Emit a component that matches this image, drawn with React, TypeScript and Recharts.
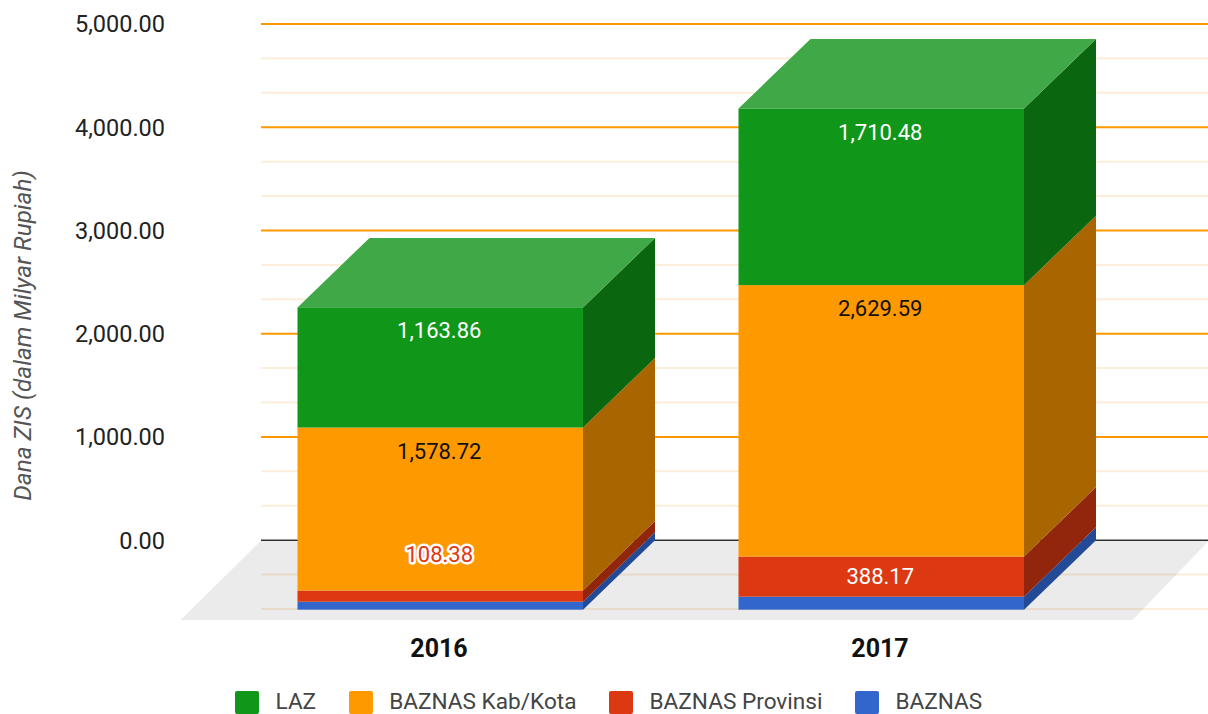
import { BarChart, Bar, XAxis, YAxis, CartesianGrid, ReferenceArea, LabelList, Legend } from 'recharts';

const years = ['2016', '2017'];
const baznas = [77, 126];
const provinsi = [108.38, 388.17];
const kabKota = [1578.72, 2629.59];
const laz = [1163.86, 1710.48];

const majorTicks = [0, 1000, 2000, 3000, 4000, 5000];
const minorLines = [-666.67, -333.33, 333.33, 666.67, 1333.33, 1666.67, 2333.33, 2666.67, 3333.33, 3666.67, 4333.33, 4666.67];

const legendItems = [
  { name: 'LAZ', color: '#109618' },
  { name: 'BAZNAS Kab/Kota', color: '#ff9900' },
  { name: 'BAZNAS Provinsi', color: '#dc3912' },
  { name: 'BAZNAS', color: '#3366cc' },
];

const data = years.map((year, i) => ({
  year,
  baznas: baznas[i],
  provinsi: provinsi[i],
  kabKota: kabKota[i],
  laz: laz[i],
}));

// depth of the fake 3d box: the axis sits on the back wall, front face is shifted by this
const DX = 72;
const DY = 69.5;
const FONT = 'Roboto, sans-serif';

const fmt = (v: number) =>
  v.toLocaleString('en-US', { minimumFractionDigits: 2, maximumFractionDigits: 2 });

function boxShape(sideColor: string, topColor?: string) {
  return (props: any) => {
    const { x, y, width, height, fill } = props;
    const fx = x - DX;
    const fy = y + DY;
    return (
      <g>
        <polygon
          points={`${fx + width},${fy} ${x + width},${y} ${x + width},${y + height} ${fx + width},${fy + height}`}
          fill={sideColor}
        />
        {topColor && (
          <polygon
            points={`${fx},${fy} ${x},${y} ${x + width},${y} ${fx + width},${fy}`}
            fill={topColor}
          />
        )}
        <rect x={fx} y={fy} width={width} height={height} fill={fill} />
      </g>
    );
  };
}

function valueLabel(color: string, outside?: string) {
  return (props: any) => {
    const { x, y, width, height, value } = props;
    const cx = x + width / 2 - DX - 1;
    const small = height < 20;
    if (small && outside) {
      return (
        <text
          x={cx}
          y={y + DY - 36}
          textAnchor="middle"
          dominantBaseline="central"
          fontFamily={FONT}
          fontSize={22}
          fill={outside}
          stroke="#fff"
          strokeWidth={5}
          paintOrder="stroke"
          strokeLinejoin="round"
        >
          {fmt(value)}
        </text>
      );
    }
    return (
      <text
        x={cx}
        y={y + DY + Math.min(23.5, height / 2 - 0.5)}
        textAnchor="middle"
        dominantBaseline="central"
        fontFamily={FONT}
        fontSize={22}
        fill={color}
      >
        {fmt(value)}
      </text>
    );
  };
}

// x/width come from the padded category range, so the floor corners reach past them.
// Translucent because this layer lands above the grid lines.
function Floor(props: any) {
  const { x, y, width, height } = props;
  return (
    <polygon
      points={`${x - 30},${y} ${x + width + 36},${y} ${x + width - 41},${y + height + 11} ${x - 111},${y + height + 11}`}
      fill="#000"
      fillOpacity={0.08}
    />
  );
}

function YearTick(props: any) {
  const { x, y, payload } = props;
  return (
    <text
      x={x - DX - 1}
      y={y + 31}
      textAnchor="middle"
      dominantBaseline="central"
      fontFamily={FONT}
      fontSize={25}
      fontWeight={700}
      fill="#111"
    >
      {payload.value}
    </text>
  );
}

function LegendRow() {
  return (
    <div style={{ display: 'flex', height: 23, marginLeft: 235, fontFamily: FONT, fontSize: 22.6, color: '#444' }}>
      {legendItems.map((item) => (
        <div key={item.name} style={{ display: 'flex', alignItems: 'center', marginRight: 32.5 }}>
          <div style={{ width: 24, height: 23, borderRadius: 2, background: item.color, marginRight: 16.5 }} />
          <span style={{ lineHeight: '23px', position: 'relative', top: -1.5 }}>{item.name}</span>
        </div>
      ))}
    </div>
  );
}

export default function App() {
  return (
    <div style={{ position: 'absolute', left: 0, top: 0, width: 1208, height: 714, background: '#fff', overflow: 'hidden' }}>
      <BarChart
        width={1208}
        height={714}
        data={data}
        margin={{ top: 24, right: 0, bottom: 0, left: 0 }}
      >
        <ReferenceArea y1={-666.67} y2={0} shape={Floor} ifOverflow="visible" />
        <CartesianGrid
          horizontal
          vertical={false}
          horizontalValues={minorLines}
          stroke="#fdeedc"
          strokeWidth={2}
        />
        <CartesianGrid
          horizontal
          vertical={false}
          horizontalValues={majorTicks.slice(1)}
          stroke="#ff9900"
          strokeWidth={2}
        />
        <CartesianGrid
          horizontal
          vertical={false}
          horizontalValues={[0]}
          stroke="#333"
          strokeWidth={1.5}
        />
        <XAxis
          dataKey="year"
          height={45}
          axisLine={false}
          tickLine={false}
          padding={{ left: 30.5, right: 34.5 }}
          tick={YearTick}
        />
        <YAxis
          width={261}
          domain={[-666.67, 5000]}
          ticks={majorTicks}
          tickFormatter={fmt}
          axisLine={false}
          tickLine={false}
          tickSize={0}
          tickMargin={96}
          tick={{ fill: '#222', fontSize: 23.5, fontFamily: FONT }}
          label={{
            value: 'Dana ZIS (dalam Milyar Rupiah)',
            angle: -90,
            position: 'insideLeft',
            dx: 17,
            dy: 19,
            style: { textAnchor: 'middle', fontFamily: FONT, fontSize: 24.3, fontStyle: 'italic', fill: '#555' },
          }}
        />
        <Legend
          verticalAlign="bottom"
          height={60}
          content={<LegendRow />}
          wrapperStyle={{ position: 'absolute', left: 0, top: 691, width: 1208 }}
        />
        <Bar dataKey="baznas" stackId="a" barSize={285.5} fill="#3366cc" isAnimationActive={false} shape={boxShape('#234a96')} />
        <Bar dataKey="provinsi" stackId="a" barSize={285.5} fill="#dc3912" isAnimationActive={false} shape={boxShape('#92260c')}>
          <LabelList dataKey="provinsi" content={valueLabel('#fff', '#dc3912')} />
        </Bar>
        <Bar dataKey="kabKota" stackId="a" barSize={285.5} fill="#ff9900" isAnimationActive={false} shape={boxShape('#a86500')}>
          <LabelList dataKey="kabKota" content={valueLabel('#111')} />
        </Bar>
        <Bar dataKey="laz" stackId="a" barSize={285.5} fill="#109618" isAnimationActive={false} shape={boxShape('#0b6610', '#40a846')}>
          <LabelList dataKey="laz" content={valueLabel('#fff')} />
        </Bar>
      </BarChart>
    </div>
  );
}
